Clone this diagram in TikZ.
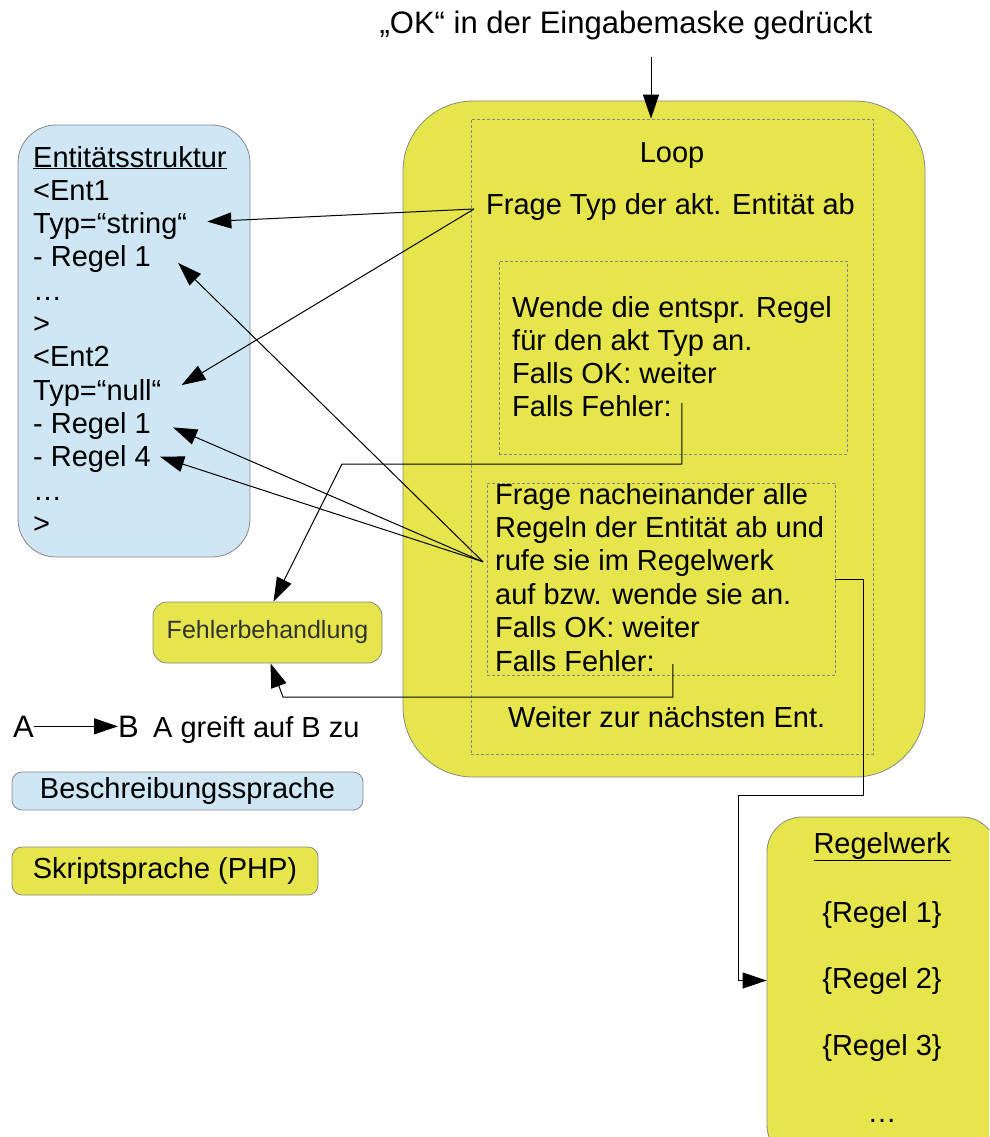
\documentclass[tikz,border=0pt]{standalone}
\usepackage{fontspec}
\setmainfont{Liberation Sans}
\usetikzlibrary{positioning,calc,arrows.meta}

\definecolor{phpyellow}{RGB}{230,230,76}
\definecolor{descblue}{RGB}{207,231,245}
\definecolor{boxgray}{RGB}{135,135,135}

\tikzset{
  yellowbox/.style={draw=boxgray, fill=phpyellow, line width=0.8pt, inner sep=0pt},
  bluebox/.style={draw=boxgray, fill=descblue, line width=0.8pt, inner sep=0pt},
  dashbox/.style={draw=boxgray, dash pattern=on 3pt off 2pt, line width=0.7pt, inner sep=0pt},
  txt/.style={inner sep=0pt, font=\fontsize{29}{33}\selectfont},
  arr/.style={-{Triangle[length=24pt,width=16pt]}, line width=1pt}
}

\begin{document}
\begin{tikzpicture}[x=1pt,y=-1pt]
    \useasboundingbox (0,0) rectangle (989,1137);
    \clip (0,0) rectangle (989,1137);

    % boxes
    \node[yellowbox, rounded corners=70pt, minimum width=522pt, minimum height=676pt] (loopbox) at (664,439) {};
    \node[dashbox, minimum width=402pt, minimum height=635pt] (outer) at (672,436.5) {};
    \node[dashbox, minimum width=348pt, minimum height=193pt] (b1) at (673,357.5) {};
    \node[dashbox, minimum width=348pt, minimum height=192pt] (b2) at (661,579) {};
    \node[bluebox, rounded corners=38pt, minimum width=232pt, minimum height=432pt] (ent) at (134,341) {};
    \node[yellowbox, rounded corners=14pt, minimum width=229pt, minimum height=61pt,
          font=\fontsize{25}{30}\selectfont, text=black!80] (feh) at (267.5,632.5) {Fehlerbehandlung};
    \node[yellowbox, rounded corners=35pt, minimum width=230pt, minimum height=343pt] (rw) at (882,988.5) {};

    % legend
    \node[bluebox, rounded corners=10pt, minimum width=351pt, minimum height=38pt, txt] (beschr) at (187.5,791) {Beschreibungssprache};
    \node[yellowbox, rounded corners=10pt, minimum width=306pt, minimum height=48pt, txt] (skript) at (165,871) {Skriptsprache (PHP)};
    \node[txt, font=\fontsize{31}{33}\selectfont, anchor=base west] (legA) at (13,737) {A};
    \node[txt, font=\fontsize{31}{33}\selectfont, anchor=base west] (legB) at (118,737) {B};
    \node[txt, anchor=base west] (legtxt) at (153,737) {A greift auf B zu};
    \draw[arr] (legA.east) -- (legB.west);

    % texts
    \node[txt, font=\fontsize{31}{33}\selectfont, anchor=base] (ok) at (626,34) {„OK“ in der Eingabemaske gedrückt};
    \node[txt, anchor=base] (loop) at (672,162) {Loop};
    \node[txt, anchor=base west] (tq) at (486,214) {Frage Typ der akt. Entität ab};
    \node[txt, anchor=base west] (weiter) at (508,727) {Weiter zur nächsten Ent.};

    \foreach \txt [count=\i] in {Wende die entspr. Regel, für den akt Typ an., Falls OK: weiter, Falls Fehler:}
        \node[txt, anchor=base west] (w\i) at (512,317+33.3*\i-33.3) {\txt};

    \foreach \txt [count=\i] in {Frage nacheinander alle, Regeln der Entität ab und, rufe sie im Regelwerk,
                                auf bzw. wende sie an., Falls OK: weiter, Falls Fehler:}
        \node[txt, anchor=base west] (q\i) at (495,504+33.4*\i-33.4) {\txt};

    \foreach \txt [count=\i] in {{\underline{Entitätsstruktur}}, <Ent1, Typ=“string“, - Regel 1, …, >,
                                <Ent2, Typ=“null“, - Regel 1, - Regel 4, …, >}
        \node[txt, anchor=base west] (e\i) at (33,167+33.3*\i-33.3) {\txt};

    \node[txt, anchor=base] (rwtitle) at (882,853) {\underline{Regelwerk}};
    \foreach \j/\yy in {1/922, 2/988, 3/1055}
        \node[txt, anchor=base] (r\j) at (882,\yy) {\{Regel \j\}};
    \node[txt, anchor=base] (rdots) at (882,1122) {…};

    % connectors
    \coordinate (okstart) at (651,57);
    \draw[arr] (okstart) -- (okstart |- outer.north);

    \coordinate (tqL) at ([shift={(-12,-5)}]tq.base west);
    \draw[arr] (tqL) -- ([shift={(20,-12)}]e3.base east);
    \draw[arr] (tqL) -- ([shift={(20,-15)}]e8.base east);

    \coordinate (askL) at ([shift={(-12,-9)}]q3.base west);
    \draw[arr] (askL) -- ([shift={(27,-4)}]e4.base east);
    \draw[arr] (askL) -- ([shift={(22,-6)}]e9.base east);
    \draw[arr] (askL) -- ([shift={(9,-10)}]e10.base east);

    \coordinate (errbend1) at (342,464);
    \coordinate (errbend2) at (283,697);
    \draw[arr] ([shift={(10,-14)}]w4.base east) |- (errbend1) -- ([xshift=6pt]feh.north);
    \draw[arr] ([shift={(18,-7)}]q6.base east) |- (errbend2) -- ([xshift=3pt]feh.south);

    \coordinate (ruleturn) at (738,795);
    \draw[arr] (b2.east) -- ++(28,0) |- (ruleturn) |- (rw.west |- r2);
\end{tikzpicture}
\end{document}
